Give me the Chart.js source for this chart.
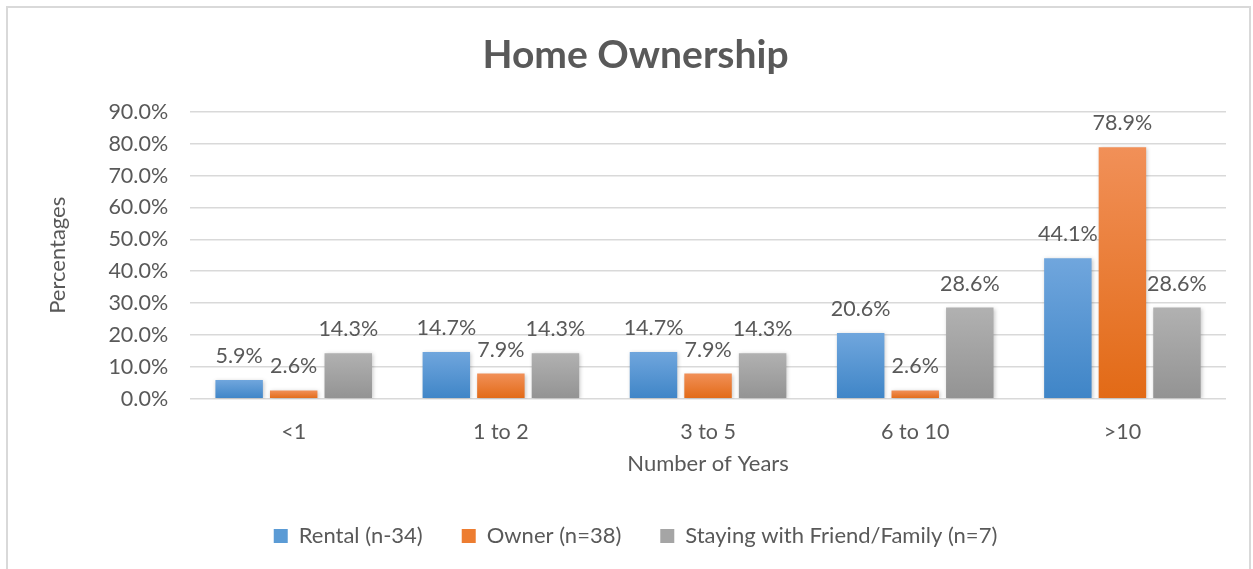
<!DOCTYPE html>
<html>
<head>
<meta charset="utf-8">
<script src="https://cdn.jsdelivr.net/npm/chart.js@4"></script>
<style>
  html, body { margin: 0; padding: 0; background: #fff; }
  #wrap { width: 1253px; height: 569px; position: relative; }
</style>
</head>
<body>
<div id="wrap"><canvas id="chart"></canvas></div>
<script>
// data
const categories = ['<1', '1 to 2', '3 to 5', '6 to 10', '>10'];
const rental = [5.9, 14.7, 14.7, 20.6, 44.1];
const owner = [2.6, 7.9, 7.9, 2.6, 78.9];
const staying = [14.3, 14.3, 14.3, 28.6, 28.6];
const seriesNames = ['Rental (n-34)', 'Owner (n=38)', 'Staying with Friend/Family (n=7)'];

const FONT = 'Lato, "Open Sans", sans-serif';
const TEXT = '#595959';

// top / bottom colour of each series gradient
const shades = [
    ['#70a6dd', '#3f85c7', '#5b9bd5'],
    ['#f19058', '#e26a16', '#ed7d31'],
    ['#b1b1b1', '#939393', '#a5a5a5']
];

function barFill(i) {
    return (c) => {
        const chart = c.chart;
        if (!chart.chartArea || c.dataIndex === undefined) return shades[i][2];
        const y = chart.scales.y;
        const top = y.getPixelForValue(c.dataset.data[c.dataIndex]);
        const bot = y.getPixelForValue(0);
        if (!isFinite(top) || !isFinite(bot) || top === bot) return shades[i][2];
        const g = chart.ctx.createLinearGradient(0, top, 0, bot);
        g.addColorStop(0, shades[i][0]);
        g.addColorStop(1, shades[i][1]);
        return g;
    };
}

// outer frame like the office chart border
const framePlugin = {
    id: 'frame',
    beforeDraw(chart) {
        const ctx = chart.ctx;
        ctx.save();
        ctx.fillStyle = '#fff';
        ctx.fillRect(0, 0, chart.width, chart.height);
        ctx.strokeStyle = '#d9d9d9';
        ctx.lineWidth = 2;
        ctx.strokeRect(7, 7, chart.width - 10, chart.height + 20);
        ctx.restore();
    }
};

// soft shadow under bars
const shadowPlugin = {
    id: 'barShadow',
    beforeDatasetsDraw(chart) {
        const ctx = chart.ctx;
        ctx.save();
        ctx.shadowColor = 'rgba(0,0,0,0.22)';
        ctx.shadowBlur = 4;
        ctx.shadowOffsetX = 1;
        ctx.shadowOffsetY = 1;
    },
    afterDatasetsDraw(chart) {
        chart.ctx.restore();
    }
};

// value labels over each bar
const labelPlugin = {
    id: 'valueLabels',
    afterDatasetsDraw(chart) {
        const ctx = chart.ctx;
        ctx.save();
        ctx.font = '21.5px ' + FONT;
        ctx.fillStyle = TEXT;
        ctx.textAlign = 'center';
        ctx.textBaseline = 'middle';
        chart.data.datasets.forEach((ds, i) => {
            chart.getDatasetMeta(i).data.forEach((bar, j) => {
                ctx.fillText(ds.data[j].toFixed(1) + '%', bar.x, bar.y - 24);
            });
        });
        ctx.restore();
    }
};

const dataSets = [rental, owner, staying].map((vals, i) => ({
    label: seriesNames[i],
    data: vals,
    backgroundColor: barFill(i),
    borderWidth: 0,
    categoryPercentage: 0.79,
    barPercentage: 0.87
}));

new Chart(document.getElementById('chart'), {
    type: 'bar',
    data: { labels: categories, datasets: dataSets },
    plugins: [framePlugin, shadowPlugin, labelPlugin],
    options: {
        responsive: true,
        maintainAspectRatio: false,
        animation: false,
        layout: { padding: { left: 45, right: 27, top: 32, bottom: 12 } },
        plugins: {
            title: {
                display: true,
                text: 'Home Ownership',
                color: TEXT,
                font: { family: FONT, size: 39, weight: 'bold' },
                padding: { top: 0, bottom: 33 }
            },
            legend: {
                position: 'bottom',
                labels: {
                    color: TEXT,
                    font: { family: FONT, size: 22 },
                    boxWidth: 14,
                    boxHeight: 14,
                    padding: 39,
                    generateLabels(chart) {
                        return chart.data.datasets.map((ds, i) => ({
                            text: ds.label,
                            fillStyle: shades[i][2],
                            strokeStyle: shades[i][2],
                            lineWidth: 0,
                            fontColor: TEXT,
                            datasetIndex: i
                        }));
                    }
                }
            },
            tooltip: { enabled: false }
        },
        scales: {
            x: {
                grid: { display: false },
                border: { display: false },
                ticks: { color: TEXT, font: { family: FONT, size: 21.5 }, padding: 12 },
                title: {
                    display: true,
                    text: 'Number of Years',
                    color: TEXT,
                    font: { family: FONT, size: 22 },
                    padding: { top: -6, bottom: 9 }
                }
            },
            y: {
                min: 0,
                max: 90,
                grid: { color: '#d9d9d9', lineWidth: 1.5, drawTicks: false },
                border: { display: false },
                ticks: {
                    stepSize: 10,
                    color: TEXT,
                    font: { family: FONT, size: 21.5 },
                    padding: 22,
                    callback: (v) => v.toFixed(1) + '%'
                },
                title: {
                    display: true,
                    text: 'Percentages',
                    color: TEXT,
                    font: { family: FONT, size: 22 },
                    padding: { top: 0, bottom: 15 }
                }
            }
        }
    }
});
</script>
</body>
</html>
